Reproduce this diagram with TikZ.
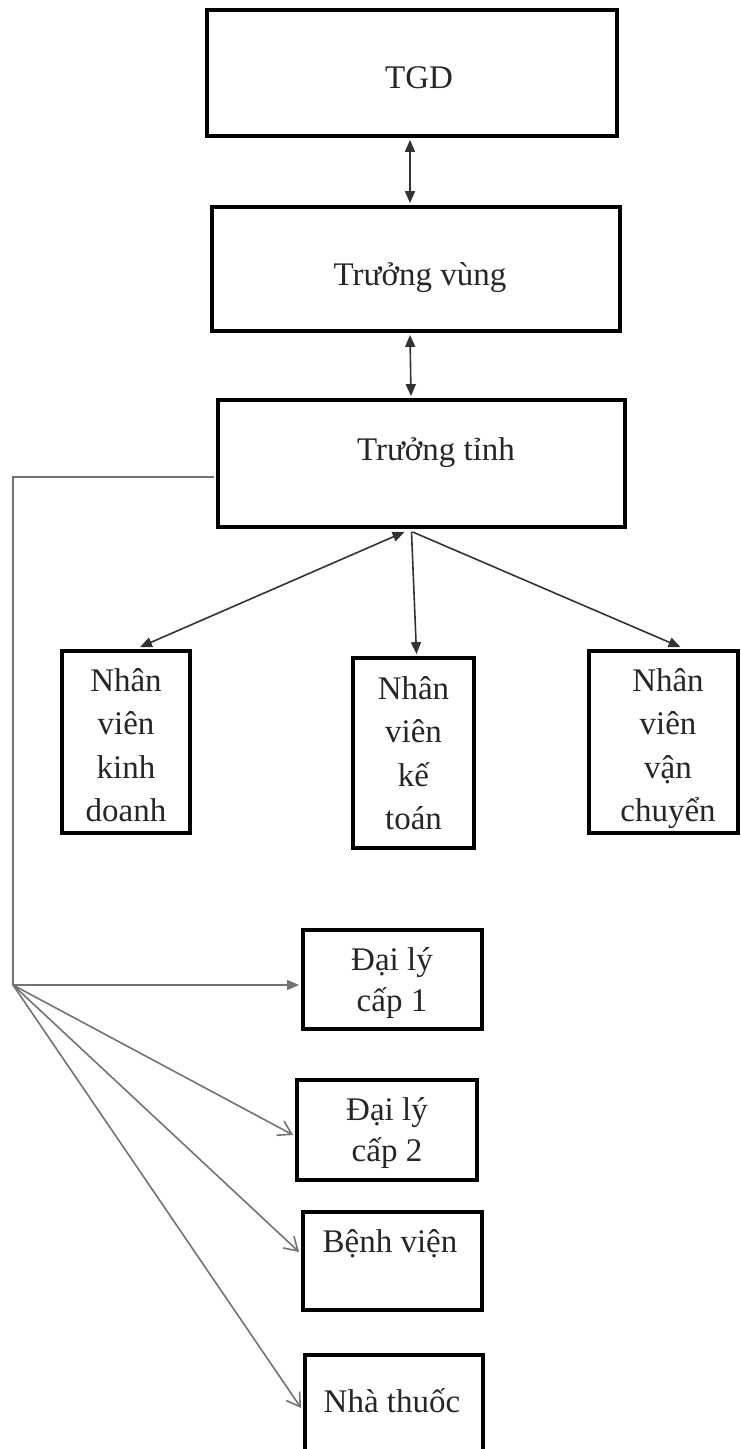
\documentclass[tikz,border=0pt]{standalone}
\usepackage{fontspec}
\setmainfont{Liberation Serif}
\usetikzlibrary{arrows.meta}
\tikzset{
  box/.style={draw=black, line width=3.8pt, rectangle, inner sep=0pt},
  lbl/.style={font=\fontsize{33}{43.5}\selectfont, text=black!85, align=center, inner sep=0pt},
  conn/.style={draw=black!80, line width=1.6pt},
  gconn/.style={draw=black!55, line width=1.6pt},
  tri/.style={-{Triangle[length=12pt,width=10pt]}},
  dtri/.style={{Triangle[length=12pt,width=10pt]}-{Triangle[length=12pt,width=10pt]}},
  barb/.style={-{Straight Barb[length=13pt,width=16pt,line width=1.6pt]}}
}
\begin{document}
\begin{tikzpicture}[x=1pt,y=-1pt]
\useasboundingbox (0,0) rectangle (740,1449);
% top chain
\node[box, minimum width=410pt, minimum height=126pt] (tgd) at (412,73) {};
\node[lbl, anchor=base] (tgdt) at (419,88) {TGD};
\node[box, minimum width=408pt, minimum height=124pt] (tv) at (416,269) {};
\node[lbl, anchor=base] (tvt) at (420,285) {Trưởng vùng};
\node[box, minimum width=407pt, minimum height=127pt] (tt) at (421.5,463.5) {};
\node[lbl, anchor=base] (ttt) at (436,460) {Trưởng tỉnh};
% staff
\node[box, minimum width=128pt, minimum height=182pt] (kd) at (126,742) {};
\node[lbl, anchor=north] (kdt) at (126,668) {Nhân\\viên\\kinh\\doanh};
\node[box, minimum width=121pt, minimum height=190pt] (kt) at (413.5,753) {};
\node[lbl, anchor=north] (ktt) at (413.5,676) {Nhân\\viên\\kế\\toán};
\node[box, minimum width=149pt, minimum height=182pt] (vc) at (663.5,742) {};
\node[lbl, anchor=north] (vct) at (668,668) {Nhân\\viên\\vận\\chuyển};
% customers
\node[box, minimum width=179pt, minimum height=99pt] (dl1) at (392.5,979.5) {};
\node[lbl, font=\fontsize{33}{41}\selectfont, anchor=north] (dl1t) at (392,947) {Đại lý\\cấp 1};
\node[box, minimum width=180pt, minimum height=100pt] (dl2) at (387,1130) {};
\node[lbl, font=\fontsize{33}{41}\selectfont, anchor=north] (dl2t) at (387,1097) {Đại lý\\cấp 2};
\node[box, minimum width=179pt, minimum height=98pt] (bv) at (392.5,1261) {};
\node[lbl, anchor=base] (bvt) at (390,1252) {Bệnh viện};
\node[box, minimum width=178pt, minimum height=120pt, anchor=north] (nt) at (394,1353) {};
\node[lbl, anchor=base] (ntt) at (392,1412) {Nhà thuốc};
% connectors top
\draw[conn, dtri] ([yshift=-2pt]410,0 |- tgd.south) -- ([yshift=2pt]410,0 |- tv.north);
\draw[conn, dtri] ([yshift=-2pt]410,0 |- tv.south) -- ([yshift=2pt]411,0 |- tt.north);
\coordinate (ttb) at ([yshift=-3pt]tt.south);
\draw[conn, dtri] ([xshift=-17pt]ttb) -- ([xshift=14pt,yshift=2pt]kd.north);
\draw[conn, tri] ([xshift=-10pt]ttb) -- ([xshift=3pt,yshift=2pt]kt.north);
\draw[conn, tri] ([xshift=-9pt]ttb) -- ([xshift=17pt,yshift=2pt]vc.north);
% left system
\coordinate (ttl) at (tt.west |- 0,477);
\coordinate (corner) at (13,985);
\draw[gconn] ([xshift=-2pt]ttl) -| (corner);
\draw[gconn, tri] (corner) -- ([xshift=-2pt]dl1.west |- corner);
\draw[gconn, barb] (corner) -- ([xshift=-2pt,yshift=-5pt]dl2.west);
\draw[gconn, barb] (corner) -- ([xshift=-2pt,yshift=9pt]bv.west);
\draw[gconn, barb] (corner) -- ([xshift=-2pt]nt.west |- 0,1408);
\end{tikzpicture}
\end{document}
